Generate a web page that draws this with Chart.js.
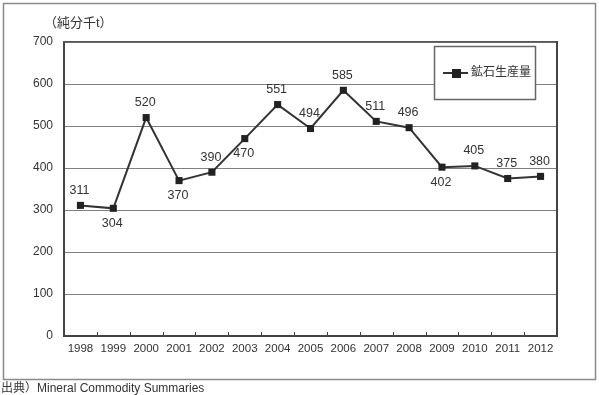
<!DOCTYPE html>
<html>
<head>
<meta charset="utf-8">
<script src="https://cdn.jsdelivr.net/npm/chart.js@4"></script>
<style>
    html, body { margin: 0; padding: 0; background: #fff; }
    #wrap { position: relative; width: 599px; height: 395px; }
</style>
</head>
<body>
<div id="wrap"><canvas id="oreChart" width="599" height="395"></canvas></div>
<script>
// Data
const years = ['1998', '1999', '2000', '2001', '2002', '2003', '2004', '2005', '2006', '2007', '2008', '2009', '2010', '2011', '2012'];
const production = [311, 304, 520, 370, 390, 470, 551, 494, 585, 511, 496, 402, 405, 375, 380];
const labelSide = ['up', 'down', 'up', 'down', 'up', 'down', 'up', 'up', 'up', 'up', 'up', 'down', 'up', 'up', 'up'];
const seriesName = '鉱石生産量';
const unitText = '（純分千t）';
const sourceText = '（出典）Mineral Commodity Summaries';

const FONT = '"Liberation Sans", "Noto Sans CJK JP", sans-serif';

// Frame, unit and source text, value labels, legend box
const decorations = {
    id: 'decorations',
    beforeDraw(chart) {
        const ctx = chart.ctx;
        ctx.save();
        ctx.fillStyle = '#fff';
        ctx.fillRect(0, 0, chart.width, chart.height);
        ctx.strokeStyle = '#8a8a8a';
        ctx.lineWidth = 1.5;
        ctx.strokeRect(3.5, 3.5, 592, 376);
        ctx.fillStyle = '#333';
        ctx.font = '13px ' + FONT;
        ctx.textBaseline = 'middle';
        ctx.textAlign = 'left';
        ctx.fillText(unitText, 44, 23);
        ctx.font = '12px ' + FONT;
        ctx.fillText(sourceText, -11, 389);
        ctx.restore();
    },
    afterDatasetsDraw(chart) {
        const ctx = chart.ctx;
        const meta = chart.getDatasetMeta(0);
        const x = chart.scales.x;
        const area = chart.chartArea;
        ctx.save();
        // inward tick marks between years
        ctx.strokeStyle = '#444';
        ctx.lineWidth = 1;
        for (let i = 0; i < years.length - 1; i++) {
            const px = Math.round((x.getPixelForValue(i) + x.getPixelForValue(i + 1)) / 2) + 0.5;
            ctx.beginPath();
            ctx.moveTo(px, area.bottom);
            ctx.lineTo(px, area.bottom - 4);
            ctx.stroke();
        }
        // value labels
        ctx.fillStyle = '#333';
        ctx.font = '12.5px ' + FONT;
        ctx.textAlign = 'center';
        ctx.textBaseline = 'middle';
        meta.data.forEach((pt, i) => {
            const dy = labelSide[i] === 'up' ? -15 : 15;
            ctx.fillText(String(production[i]), pt.x - 1, pt.y + dy);
        });
        // legend box
        ctx.fillStyle = '#fff';
        ctx.fillRect(434, 46, 102, 54);
        ctx.strokeStyle = '#666';
        ctx.lineWidth = 1.5;
        ctx.strokeRect(434.5, 46.5, 101, 53);
        ctx.strokeStyle = '#333';
        ctx.lineWidth = 2;
        ctx.beginPath();
        ctx.moveTo(443, 73);
        ctx.lineTo(468, 73);
        ctx.stroke();
        ctx.fillStyle = '#222';
        ctx.fillRect(452, 69, 9, 9);
        ctx.fillStyle = '#333';
        ctx.font = '12px ' + FONT;
        ctx.textAlign = 'left';
        ctx.fillText(seriesName, 471, 73);
        ctx.restore();
    }
};

function createChart() {
    const ctx = document.getElementById('oreChart').getContext('2d');
    return new Chart(ctx, {
        type: 'line',
        data: {
            labels: years,
            datasets: [{
                label: seriesName,
                data: production,
                borderColor: '#333',
                borderWidth: 2,
                pointStyle: 'rect',
                pointRadius: 5,
                pointBackgroundColor: '#222',
                pointBorderColor: '#222',
                pointBorderWidth: 0,
                tension: 0
            }]
        },
        options: {
            responsive: false,
            animation: false,
            layout: { padding: { left: 0, top: 42, right: 42, bottom: 0 } },
            scales: {
                x: {
                    offset: true,
                    grid: { display: false, drawTicks: false },
                    border: { display: true, color: '#444', width: 2 },
                    ticks: {
                        color: '#333',
                        font: { size: 11.5, family: FONT },
                        padding: 6,
                        maxRotation: 0,
                        autoSkip: false
                    },
                    afterFit: function(scale) { scale.height = 59; }
                },
                y: {
                    min: 0,
                    max: 700,
                    grid: { color: '#808080', lineWidth: 1, drawTicks: false },
                    border: { display: true, color: '#444', width: 2 },
                    ticks: {
                        stepSize: 100,
                        color: '#333',
                        font: { size: 12, family: FONT },
                        padding: 11
                    },
                    afterFit: function(scale) { scale.width = 64; }
                },
                x2: {
                    position: 'top',
                    display: true,
                    grid: { display: false, drawTicks: false },
                    border: { display: true, color: '#555', width: 1.5 },
                    ticks: { display: false },
                    afterFit: function(scale) { scale.height = 0; }
                },
                y2: {
                    position: 'right',
                    display: true,
                    grid: { display: false, drawTicks: false },
                    border: { display: true, color: '#444', width: 2 },
                    ticks: { display: false },
                    afterFit: function(scale) { scale.width = 0; }
                }
            },
            plugins: {
                legend: { display: false },
                tooltip: { enabled: false }
            }
        },
        plugins: [decorations]
    });
}

createChart();
</script>
</body>
</html>
